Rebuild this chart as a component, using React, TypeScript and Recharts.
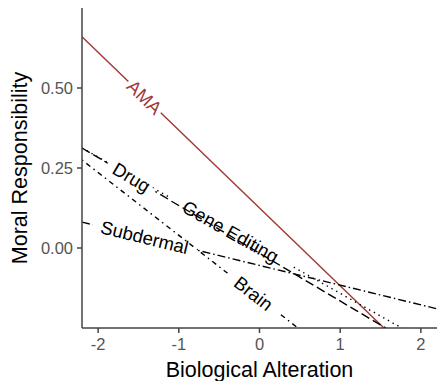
import React from 'react';
import { LineChart, Line, XAxis, YAxis, ReferenceDot, Label } from 'recharts';

const xEnds = [-2.2, 2.2];
const ama = [0.66, -0.41];
const drug = [0.3125, -0.345];
const geneEditing = [0.3125, -0.312];
const brain = [0.275, -0.588];
const subdermal = [0.081, -0.19];

const xTicks = [-2, -1, 0, 1, 2];
const yTicks = [0, 0.25, 0.5];

// where each text label sits along its line (x in data units)
const labelNames = ['AMA', 'Drug', 'Gene Editing', 'Subdermal', 'Brain'];
const labelX = [-1.425, -1.586, -0.36, -1.425, -0.074];

const data = xEnds.map((x, i) => ({
    x,
    ama: ama[i],
    drug: drug[i],
    gene: geneEditing[i],
    brain: brain[i],
    subdermal: subdermal[i],
}));

const W = 438;
const H = 381;
const margin = { top: 8, right: 1, left: 0, bottom: 0 };
const yAxisWidth = 82;
const xAxisHeight = 53;
const xDomain: [number, number] = [-2.2, 2.2];
const yDomain: [number, number] = [-0.25, 0.75];
const plotW = W - margin.left - margin.right - yAxisWidth;
const plotH = H - margin.top - margin.bottom - xAxisHeight;
const pxPerX = plotW / (xDomain[1] - xDomain[0]);
const pxPerY = plotH / (yDomain[1] - yDomain[0]);

const font = '"Liberation Sans", Arial, sans-serif';
const red = '#9E3A33';

const series = [
    { key: 'ama', vals: ama, color: red, dash: undefined },
    { key: 'drug', vals: drug, color: '#000', dash: '9 4' },
    { key: 'gene', vals: geneEditing, color: '#000', dash: '1.4 4' },
    { key: 'subdermal', vals: subdermal, color: '#000', dash: '8 3 1.5 3' },
    { key: 'brain', vals: brain, color: '#000', dash: '1.5 4 5 4' },
];

const interp = (vals: number[], x: number) =>
    vals[0] + (vals[1] - vals[0]) * (x - xEnds[0]) / (xEnds[1] - xEnds[0]);

const makeLabel = (name: string, vals: number[], color: string) => {
    const slopePx = -((vals[1] - vals[0]) / (xEnds[1] - xEnds[0])) * pxPerY / pxPerX;
    const angle = Math.atan(slopePx) * 180 / Math.PI;
    const fs = 18.5;
    const w = name.length * fs * 0.56 + 14;
    return (props: any) => (
        <g transform={`translate(${props.cx},${props.cy}) rotate(${angle})`}>
            <rect x={-w / 2} y={-1.8} width={w} height={3.6} fill="#fff" />
            <text textAnchor="middle" dominantBaseline="central" fontFamily={font} fontSize={fs} fill={color}>
                {name}
            </text>
        </g>
    );
};

const App = () => {
    const tickStyle = { fontFamily: font, fontSize: 16.5, fill: '#555' };
    return (
        <div style={{ position: 'absolute', left: 0, top: 0, background: '#fff' }}>
            <LineChart width={W} height={H} data={data} margin={margin}>
                <XAxis
                    dataKey="x"
                    type="number"
                    domain={xDomain}
                    ticks={xTicks}
                    allowDataOverflow
                    height={xAxisHeight}
                    tick={tickStyle}
                    tickSize={5}
                    tickMargin={5}
                    stroke="#444"
                    strokeWidth={1.5}
                >
                    <Label value="Biological Alteration" position="insideBottom" offset={4}
                        style={{ fontFamily: font, fontSize: 21.5, fill: '#000' }} />
                </XAxis>
                <YAxis
                    type="number"
                    domain={yDomain}
                    ticks={yTicks}
                    allowDataOverflow
                    width={yAxisWidth}
                    tick={tickStyle}
                    tickSize={5}
                    tickMargin={4}
                    tickFormatter={(v: number) => v.toFixed(2)}
                    stroke="#444"
                    strokeWidth={1.5}
                >
                    <Label value="Moral Responsibility" angle={-90} position="insideLeft" offset={19}
                        style={{ fontFamily: font, fontSize: 21.5, fill: '#000', textAnchor: 'middle' }} />
                </YAxis>
                {series.map(s => (
                    <Line
                        key={s.key}
                        dataKey={s.key}
                        stroke={s.color}
                        strokeWidth={1.4}
                        strokeDasharray={s.dash}
                        dot={false}
                        activeDot={false}
                        isAnimationActive={false}
                    />
                ))}
                {series.map((s, i) => (
                    <ReferenceDot
                        key={'lab-' + s.key}
                        x={labelX[i]}
                        y={interp(s.vals, labelX[i])}
                        r={0}
                        shape={makeLabel(labelNames[i], s.vals, s.color)}
                    />
                ))}
            </LineChart>
        </div>
    );
};

export default App;
